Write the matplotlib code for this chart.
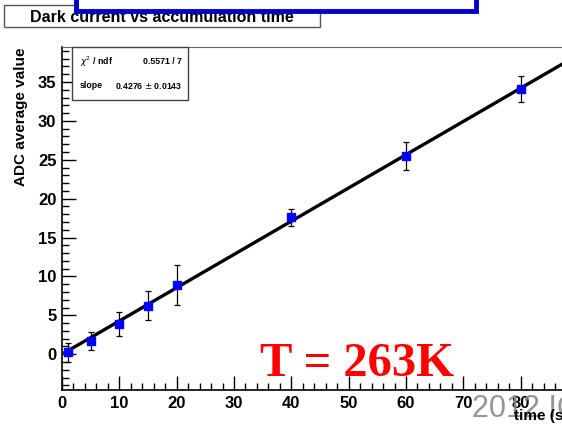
import numpy as np
import matplotlib
matplotlib.use('Agg')
import matplotlib.pyplot as plt
from matplotlib.ticker import MultipleLocator
from matplotlib.patches import Rectangle

# measured points
time_s = [1, 5, 10, 15, 20, 40, 60, 80]
adc_mean = [0.25, 1.7, 3.9, 6.25, 8.9, 17.6, 25.5, 34.1]
adc_err = [1.2, 1.15, 1.5, 1.85, 2.6, 1.1, 1.8, 1.7]

# fit result
slope = 0.4276
slope_err = 0.0143
chi2_ndf = '0.5571 / 7'

plt.rcParams['font.family'] = ['Liberation Sans', 'DejaVu Sans']

W, H = 562, 425
fig = plt.figure(figsize=(W / 100, H / 100), dpi=100)
ax = fig.add_axes([62 / W, 1 - 390 / H, (574 - 62) / W, (390 - 47) / H])

fit_x = np.array([0.5, 95])
ax.plot(fit_x, slope * fit_x, color='black', lw=2.4, zorder=2)
ax.errorbar(time_s, adc_mean, yerr=adc_err, fmt='s', color='#0000ff', ms=6,
            ecolor='black', elinewidth=0.9, capsize=2.5, capthick=0.9, zorder=3)

ax.set_xlim(0, 89.3)
ax.set_ylim(-4.6, 39.5)
ax.xaxis.set_major_locator(MultipleLocator(10))
ax.xaxis.set_minor_locator(MultipleLocator(2))
ax.yaxis.set_major_locator(MultipleLocator(5))
ax.yaxis.set_minor_locator(MultipleLocator(1))
ax.tick_params(which='both', direction='in', top=False, right=False, width=1)
ax.tick_params(which='major', length=10, labelsize=12, pad=4)
ax.tick_params(which='minor', length=5)
for lab in ax.get_xticklabels() + ax.get_yticklabels():
    lab.set_fontweight('bold')
for side in ['top', 'right']:
    ax.spines[side].set_color('#666666')
    ax.spines[side].set_linewidth(0.8)
for side in ['left', 'bottom']:
    ax.spines[side].set_linewidth(1.2)

ax.set_ylabel('ADC average value', fontsize=11, fontweight='bold', ha='right')
ax.yaxis.set_label_coords(-0.066, 1.0)

# stats box
fig.add_artist(Rectangle((72 / W, 1 - 100 / H), 116 / W, 53 / H, transform=fig.transFigure,
                         facecolor='white', edgecolor='#444444', lw=1, zorder=5))
fig.text(80 / W, 1 - 62 / H, r'$\chi^2$ / ndf', fontsize=6.3, fontweight='bold', va='center', zorder=6)
fig.text(182 / W, 1 - 62 / H, chi2_ndf, fontsize=6.3, fontweight='bold', va='center', ha='right', zorder=6)
fig.text(80 / W, 1 - 86 / H, 'slope', fontsize=6.3, fontweight='bold', va='center', zorder=6)
fig.text(182 / W, 1 - 86 / H, '%.4f $\\pm$ %.4f' % (slope, slope_err), fontsize=6.3,
         fontweight='bold', va='center', ha='right', zorder=6)

# title box
fig.add_artist(Rectangle((4 / W, 1 - 27 / H), 316 / W, 22 / H, transform=fig.transFigure,
                         facecolor='white', edgecolor='#555555', lw=1, zorder=5))
fig.text(162 / W, 1 - 17 / H, 'Dark current vs accumulation time', fontsize=11.5,
         fontweight='bold', ha='center', va='center', zorder=6)

# blue frame at top (slide overlay)
fig.add_artist(Rectangle((76 / W, 1 - 11 / H), 400 / W, 30 / H, transform=fig.transFigure,
                         facecolor='white', edgecolor='#0000cc', lw=3.5, zorder=7))

fig.text(357 / W, 1 - 376 / H, 'T = 263K', fontsize=35, fontweight='bold', color='#ff0000',
         family=['Liberation Serif', 'DejaVu Serif'], ha='center', va='baseline', zorder=6)
fig.text(472 / W, 1 - 417 / H, '2012 IC', fontsize=22, color='#8a8a8a', ha='left',
         va='baseline', alpha=0.9, zorder=6)

# x title drawn last, over the gray stamp, right-aligned near axis end
fig.text(568 / W, 1 - 409 / H, 'time (s)', fontsize=11, fontweight='bold', ha='right',
         va='top', zorder=8)

fig.savefig('out.png', dpi=100)
